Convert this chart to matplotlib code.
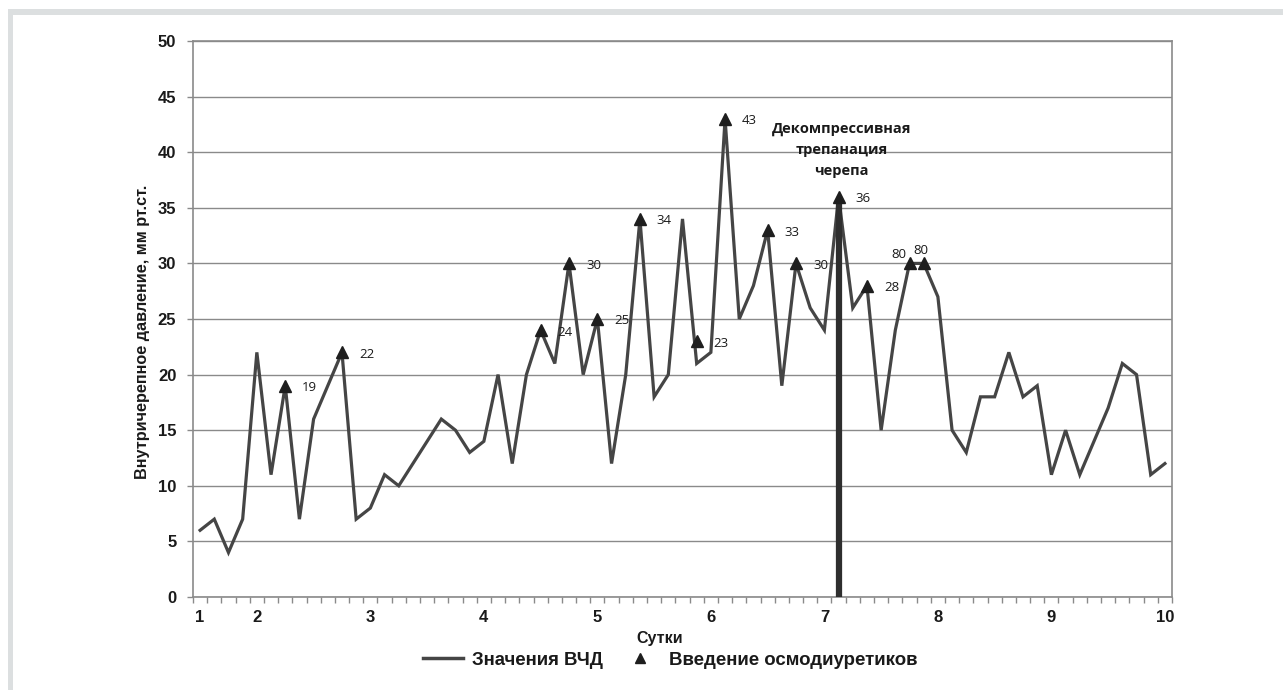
import numpy as np
import matplotlib
matplotlib.use("Agg")
import matplotlib.pyplot as plt
from matplotlib.lines import Line2D
from matplotlib.patches import Rectangle

# --- data (one value per measurement, category axis) ---
icp_values = [6, 7, 4, 7, 22, 11, 19, 7, 16, 19, 22, 7, 8, 11, 10, 12, 14, 16, 15, 13,
              14, 20, 12, 20, 24, 21, 30, 20, 25, 12, 20, 34, 18, 20, 34, 21, 22, 43, 25, 28,
              33, 19, 30, 26, 24, 36, 26, 28, 15, 24, 30, 30, 27, 15, 13, 18, 18, 22, 18, 19,
              11, 15, 11, 14, 17, 21, 20, 11, 12]

# osmodiuretic administrations: index of measurement, marker value, label text
osmo_index = [6, 10, 24, 26, 28, 31, 35, 37, 40, 42, 45, 47, 50, 51]
osmo_values = [19, 22, 24, 30, 25, 34, 23, 43, 33, 30, 36, 28, 30, 30]
osmo_labels = ['19', '22', '24', '30', '25', '34', '23', '43', '33', '30', '36', '28', '80', '80']

day_tick_index = [0, 4, 12, 20, 28, 36, 44, 52, 60, 68]
day_tick_labels = ['1', '2', '3', '4', '5', '6', '7', '8', '9', '10']

surgery_index = 45
surgery_top = 35.7

W, H = 1283, 690
fig = plt.figure(figsize=(W / 100, H / 100), dpi=100)
fig.patch.set_facecolor('white')

# light grey frame on top and left
frame_col = '#dcdfe0'
fig.add_artist(Rectangle((8 / W, 0), 5 / W, 1 - 9 / H, transform=fig.transFigure,
                         color=frame_col, lw=0))
fig.add_artist(Rectangle((8 / W, 1 - 15 / H), 1, 6 / H, transform=fig.transFigure,
                         color=frame_col, lw=0))

ax = fig.add_axes([193 / W, (H - 597) / H, 979 / W, 556 / H])

grid_col = '#8a8a8a'
text_col = '#1a1a1a'
bold_font = ['Liberation Sans', 'DejaVu Sans']

x = np.arange(len(icp_values))
ax.plot(x, icp_values, color='#454545', lw=2.3, solid_joinstyle='miter', zorder=3)

# surgery marker: thick vertical bar
ax.vlines(surgery_index, 0, surgery_top, color='#2e2e2e', lw=4.5, zorder=4)

ax.plot(osmo_index, osmo_values, linestyle='none', marker='^', markersize=8,
        color='#1e1e1e', zorder=5)

for i, v, lab in zip(osmo_index, osmo_values, osmo_labels):
    if lab == '80' and i == osmo_index[-2]:
        off, ha = (-3, 9), 'right'
    elif lab == '80':
        off, ha = (-3, 13), 'center'
    else:
        off, ha = (17, -2), 'left'
    ax.annotate(lab, (i, v), xytext=off, textcoords='offset pixels', ha=ha, va='center',
                fontsize=9.5, family=['Open Sans', 'DejaVu Sans'], color=text_col, zorder=6)

ax.text(45.2, 40.2, 'Декомпрессивная\nтрепанация\nчерепа', ha='center', va='center',
        fontsize=10.5, fontweight='bold', family=['Open Sans', 'DejaVu Sans'],
        color=text_col, linespacing=1.62, zorder=6)

# axes
ax.set_xlim(-0.5, len(icp_values) - 0.5)
ax.set_ylim(0, 50)
ax.set_yticks(np.arange(0, 51, 5))
ax.yaxis.grid(True, color=grid_col, lw=1.0)
ax.set_axisbelow(True)
for s in ax.spines.values():
    s.set_color(grid_col)
    s.set_linewidth(1.2)

ax.set_xticks(day_tick_index)
ax.set_xticklabels(day_tick_labels)
ax.set_xticks(np.arange(-0.5, len(icp_values)), minor=True)
ax.tick_params(axis='x', which='major', length=0, pad=9)
ax.tick_params(axis='x', which='minor', length=4, width=1.0, color=grid_col, direction='out')
ax.tick_params(axis='y', length=4, width=1.0, color=grid_col, direction='out', pad=8)
for lab in ax.get_xticklabels() + ax.get_yticklabels():
    lab.set_fontweight('bold')
    lab.set_fontsize(12)
    lab.set_family(bold_font)
    lab.set_color(text_col)

ax.set_xlabel('Сутки', fontsize=11.5, fontweight='bold', family=bold_font, color=text_col)
ax.xaxis.set_label_coords((660 - 193) / 979, -(639 - 597) / 556)
ax.set_ylabel('Внутричерепное давление, мм рт.ст.', fontsize=11.7, fontweight='bold',
              family=bold_font, color=text_col)
ax.yaxis.set_label_coords((143 - 193) / 979, (597 - 332) / 556)
ax.xaxis.label.set_va('center')
ax.yaxis.label.set_va('center')

handles = [Line2D([], [], color='#454545', lw=2.5),
           Line2D([], [], color='#1e1e1e', marker='^', linestyle='none', markersize=6.5)]
fig.legend(handles, ['Значения ВЧД', 'Введение осмодиуретиков'], loc='center',
           bbox_to_anchor=(670 / W, 1 - 660 / H), ncol=2, frameon=False,
           prop={'family': bold_font, 'weight': 'bold', 'size': 13.4},
           handlelength=2.2, handletextpad=0.45, columnspacing=0.9, labelcolor=text_col)

fig.savefig('out.png', dpi=100, facecolor='white')
